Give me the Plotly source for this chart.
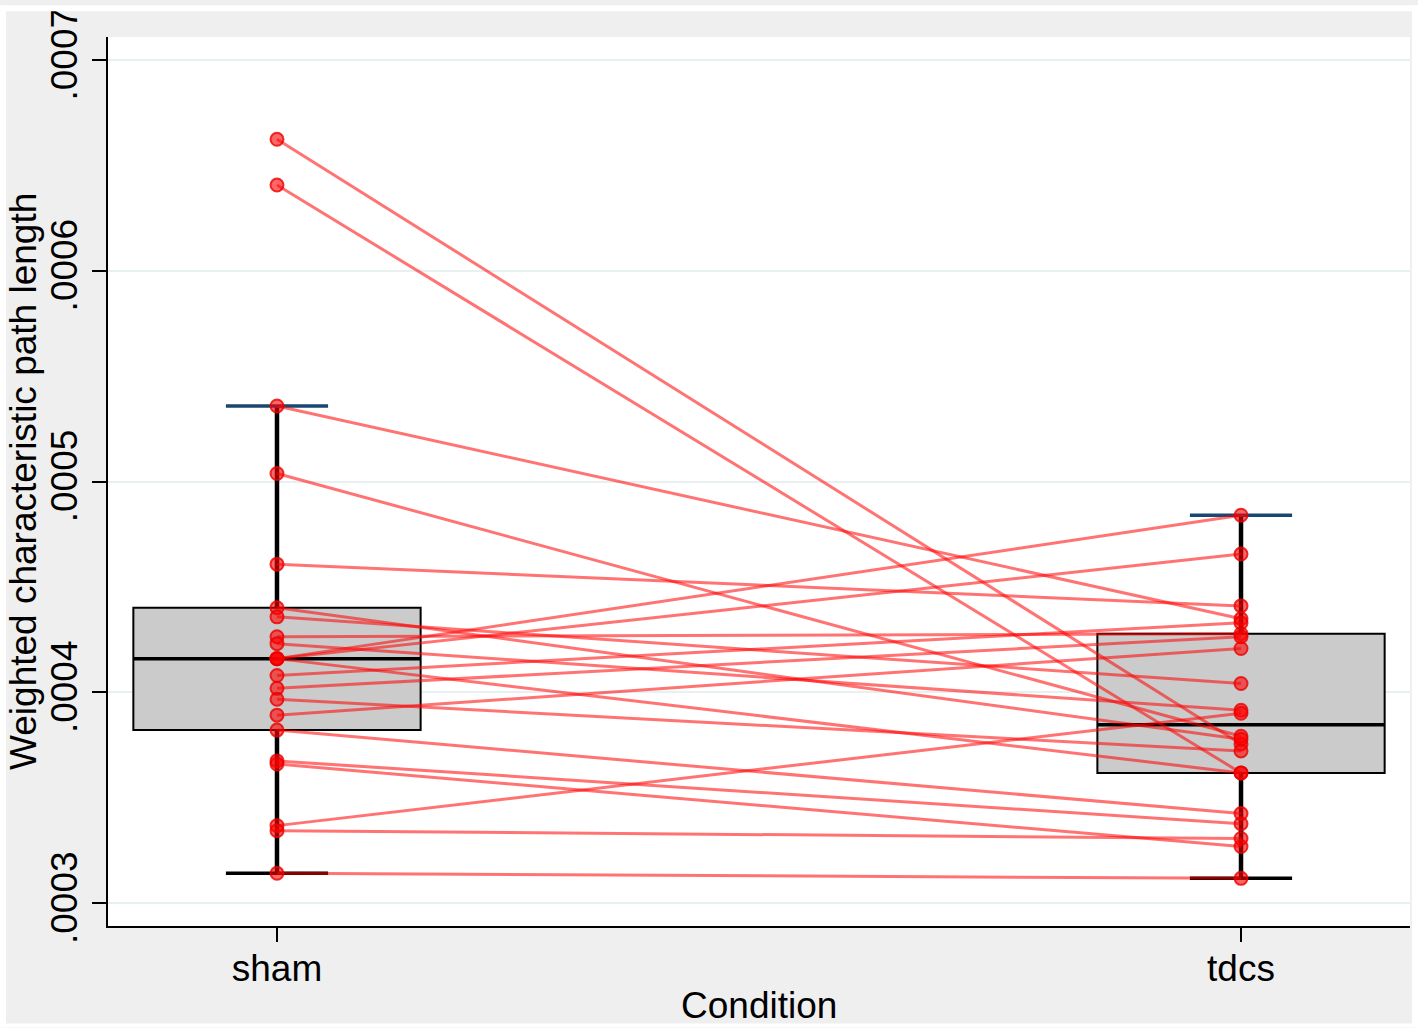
import plotly.graph_objects as go
import numpy as np

# paired values, one entry per subject (sham -> tdcs)
sham = [0.0006623, 0.0006406, 0.0005358, 0.0005038, 0.0004608, 0.0004401, 0.0004358,
        0.0004264, 0.0004231, 0.0004160, 0.0004160, 0.0004160, 0.0004080, 0.0004019,
        0.0003967, 0.0003892, 0.0003821, 0.0003675, 0.0003660, 0.0003368, 0.0003344,
        0.0003142]
tdcs = [0.0003755, 0.0003618, 0.0004349, 0.0003792, 0.0004410, 0.0003778, 0.0004042,
        0.0004278, 0.0003915, 0.0004840, 0.0004656, 0.0003618, 0.0004330, 0.0004264,
        0.0003722, 0.0004208, 0.0003425, 0.0003377, 0.0003269, 0.0003901, 0.0003307,
        0.0003118]
conditions = ['sham', 'tdcs']
# whisker ends as drawn in the figure (lower, upper)
whisk_sham = [0.0003142, 0.0005358]
whisk_tdcs = [0.0003118, 0.0004840]
ytick_vals = [0.0003, 0.0004, 0.0005, 0.0006, 0.0007]
ytick_text = ['.0003', '.0004', '.0005', '.0006', '.0007']

FONT = 'Liberation Sans, Arial, Helvetica, sans-serif'
BOXW = 0.298
CAPW = 0.053

# pixel -> paper helpers (plot area 108..1410 x 32..926)
def xp(px):
    return (px - 108) / 1302.0

def yp(py):
    return (926 - py) / 894.0

fig = go.Figure()

for pos, vals, whisk in [(0, sham, whisk_sham), (1, tdcs, whisk_tdcs)]:
    sv = sorted(vals)
    half = len(sv) // 2
    q1 = float(np.median(sv[:half]))
    q3 = float(np.median(sv[-half:]))
    med = float(np.median(vals))
    # box only, whiskers drawn separately
    fig.add_trace(go.Box(
        x=[pos], q1=[q1], median=[med], q3=[q3], lowerfence=[q1], upperfence=[q3],
        width=BOXW, fillcolor='#cbcbcb', whiskerwidth=0,
        line=dict(color='black', width=2), showlegend=False, hoverinfo='skip'))
    fig.add_trace(go.Scatter(x=[pos, pos, None, pos, pos], y=[q3, whisk[1], None, q1, whisk[0]],
                             mode='lines', line=dict(color='black', width=4.5),
                             showlegend=False, hoverinfo='skip'))
    # caps
    fig.add_trace(go.Scatter(x=[pos - CAPW, pos + CAPW], y=[whisk[1], whisk[1]], mode='lines',
                             line=dict(color='#1a476f', width=3.5), showlegend=False, hoverinfo='skip'))
    fig.add_trace(go.Scatter(x=[pos - CAPW, pos + CAPW], y=[whisk[0], whisk[0]], mode='lines',
                             line=dict(color='black', width=3.5), showlegend=False, hoverinfo='skip'))
    # median
    fig.add_trace(go.Scatter(x=[pos - BOXW / 2, pos + BOXW / 2], y=[med, med], mode='lines',
                             line=dict(color='black', width=3.5), showlegend=False, hoverinfo='skip'))

# connecting lines
lx, ly = [], []
for a, b in zip(sham, tdcs):
    lx += [0, 1, None]
    ly += [a, b, None]
fig.add_trace(go.Scatter(x=lx, y=ly, mode='lines',
                         line=dict(color='rgba(255,0,0,0.55)', width=3),
                         showlegend=False, hoverinfo='skip'))
fig.add_trace(go.Scatter(x=[0] * len(sham) + [1] * len(tdcs), y=sham + tdcs, mode='markers',
                         marker=dict(size=13, color='rgba(255,0,0,0.6)',
                                     line=dict(color='rgba(235,0,0,0.8)', width=2)),
                         showlegend=False, hoverinfo='skip'))

fig.update_xaxes(range=[-0.1753, 1.1753], tickvals=[0, 1], ticktext=conditions,
                 showgrid=False, zeroline=False, showline=True, linecolor='black', linewidth=2,
                 ticks='outside', ticklen=14, tickwidth=2, tickcolor='black',
                 ticklabelstandoff=-5,
                 tickfont=dict(family=FONT, size=37, color='black'))
fig.update_yaxes(range=[0.0002892, 0.0007108], tickvals=ytick_vals, ticktext=ytick_text,
                 tickangle=-90, showgrid=True, gridcolor='#e9f0f1', gridwidth=2,
                 zeroline=False, showline=True, linecolor='black', linewidth=2,
                 ticks='outside', ticklen=14, tickwidth=2, tickcolor='black',
                 tickfont=dict(family=FONT, size=37, color='black'))

fig.add_annotation(text='Weighted characteristic path length', xref='paper', yref='paper',
                   x=xp(1), y=0.5, textangle=-90, showarrow=False,
                   font=dict(family=FONT, size=37, color='black'))
fig.add_annotation(text='Condition', xref='paper', yref='paper',
                   x=0.5, y=yp(1006), yanchor='middle', showarrow=False,
                   font=dict(family=FONT, size=37, color='black'))

# thin white frame around the grey graph region
for x0, x1, y0, y1 in [(0, 1418, 0, 6), (0, 1418, 1024, 1028), (0, 6, 0, 1028), (1412, 1418, 0, 1028)]:
    fig.add_shape(type='rect', xref='paper', yref='paper', x0=xp(x0), x1=xp(x1),
                  y0=yp(y1), y1=yp(y0), fillcolor='white', line=dict(width=0), layer='above')

fig.update_layout(width=1418, height=1028, paper_bgcolor='#efefef', plot_bgcolor='white',
                  margin=dict(l=108, r=8, t=32, b=102), boxmode='overlay',
                  font=dict(family=FONT, color='black'))

fig.write_html('out.html', config={'displayModeBar': False},
               post_script="document.body.style.margin='0px';")
